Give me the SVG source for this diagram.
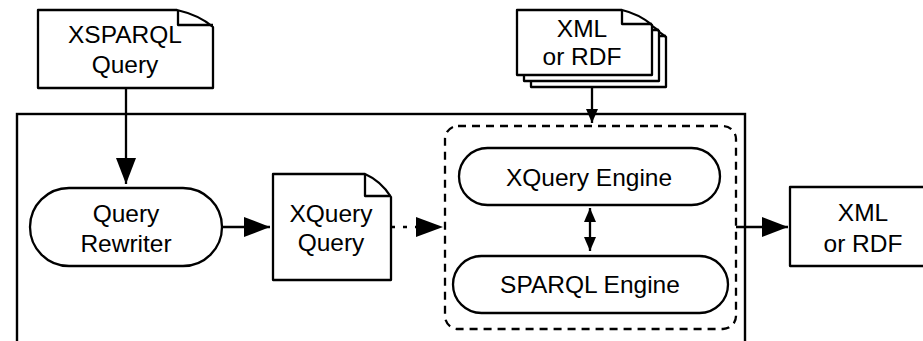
<svg xmlns="http://www.w3.org/2000/svg" width="923" height="341" viewBox="0 0 923 341">
  <style>
    .shape { fill: #fff; stroke: #000; stroke-width: 2.3; stroke-linejoin: round; }
    .frame { fill: none; stroke: #000; stroke-width: 2.4; }
    .group { fill: none; stroke: #000; stroke-width: 2.3; stroke-dasharray: 8 6; }
    .fold { fill: none; stroke: #000; stroke-width: 2.3; stroke-linejoin: round; }
    .label { font-family: "Liberation Sans", Arial, Helvetica, sans-serif; font-size: 24.5px; fill: #000; text-anchor: middle; }
    .edge { fill: none; stroke: #000; stroke-width: 2.3; }
    .dotted { stroke-dasharray: 4 8; }
  </style>
  <defs>
    <marker id="head" markerUnits="userSpaceOnUse" markerWidth="26" markerHeight="20" refX="26" refY="10" orient="auto">
      <path d="M0,0 L26,10 L0,20 Z" fill="#000"/>
    </marker>
    <marker id="headSmall" markerUnits="userSpaceOnUse" markerWidth="14" markerHeight="12" refX="14" refY="6" orient="auto-start-reverse">
      <path d="M0,0 L14,6 L0,12 Z" fill="#000"/>
    </marker>
    <!-- page with a folded top-right corner, 135 x 65 -->
    <g id="page">
      <path class="shape" d="M0,0 H105 Q122,4 135,15 V65 H0 Z"/>
      <path class="fold" d="M105,0 V14 H135"/>
    </g>
  </defs>

  <!-- system boundary -->
  <rect class="frame" x="17" y="114" width="728" height="240"/>

  <!-- engine group -->
  <rect class="group" x="445" y="126" width="291" height="203" rx="13" ry="13"/>

  <g id="xsparql-query">
    <path class="shape" d="M38,10 H177 Q199,15 213,27 V88 H38 Z"/>
    <path class="fold" d="M178,10 V25 H213"/>
    <text class="label" x="125" y="43">XSPARQL</text>
    <text class="label" x="125" y="73">Query</text>
  </g>

  <g id="xml-rdf-input">
    <use href="#page" x="531" y="22"/>
    <use href="#page" x="524" y="16"/>
    <use href="#page" x="517" y="10"/>
    <text class="label" x="582" y="37">XML</text>
    <text class="label" x="582" y="65">or RDF</text>
  </g>

  <g id="query-rewriter">
    <rect class="shape" x="30" y="188" width="192" height="78" rx="39" ry="39"/>
    <text class="label" x="126" y="222">Query</text>
    <text class="label" x="126" y="252">Rewriter</text>
  </g>

  <g id="xquery-query">
    <path class="shape" d="M273,174 H365 Q381,181 391,197 V280 H273 Z"/>
    <path class="fold" d="M365,174 V196 H391"/>
    <text class="label" x="331" y="222">XQuery</text>
    <text class="label" x="331" y="251">Query</text>
  </g>

  <g id="xquery-engine">
    <rect class="shape" x="459" y="148" width="261" height="57" rx="28.5" ry="28.5"/>
    <text class="label" x="589" y="186">XQuery Engine</text>
  </g>

  <g id="sparql-engine">
    <rect class="shape" x="453" y="256" width="275" height="57" rx="28.5" ry="28.5"/>
    <text class="label" x="590" y="293">SPARQL Engine</text>
  </g>

  <g id="xml-rdf-output">
    <rect class="shape" x="790" y="187" width="150" height="79"/>
    <text class="label" x="863" y="221">XML</text>
    <text class="label" x="863" y="252">or RDF</text>
  </g>

  <g id="connectors">
    <line class="edge" x1="126" y1="88" x2="126" y2="184" marker-end="url(#head)"/>
    <line class="edge" x1="222" y1="227" x2="270" y2="227" marker-end="url(#head)"/>
    <line class="edge dotted" x1="391" y1="227" x2="416" y2="227"/>
    <path d="M416,217 L443,227 L416,237 Z" fill="#000"/>
    <line class="edge" x1="592" y1="87" x2="592" y2="123" marker-end="url(#headSmall)"/>
    <line class="edge" x1="590" y1="208" x2="590" y2="251" marker-start="url(#headSmall)" marker-end="url(#headSmall)"/>
    <line class="edge" x1="736" y1="227" x2="788" y2="227" marker-end="url(#head)"/>
  </g>
</svg>
